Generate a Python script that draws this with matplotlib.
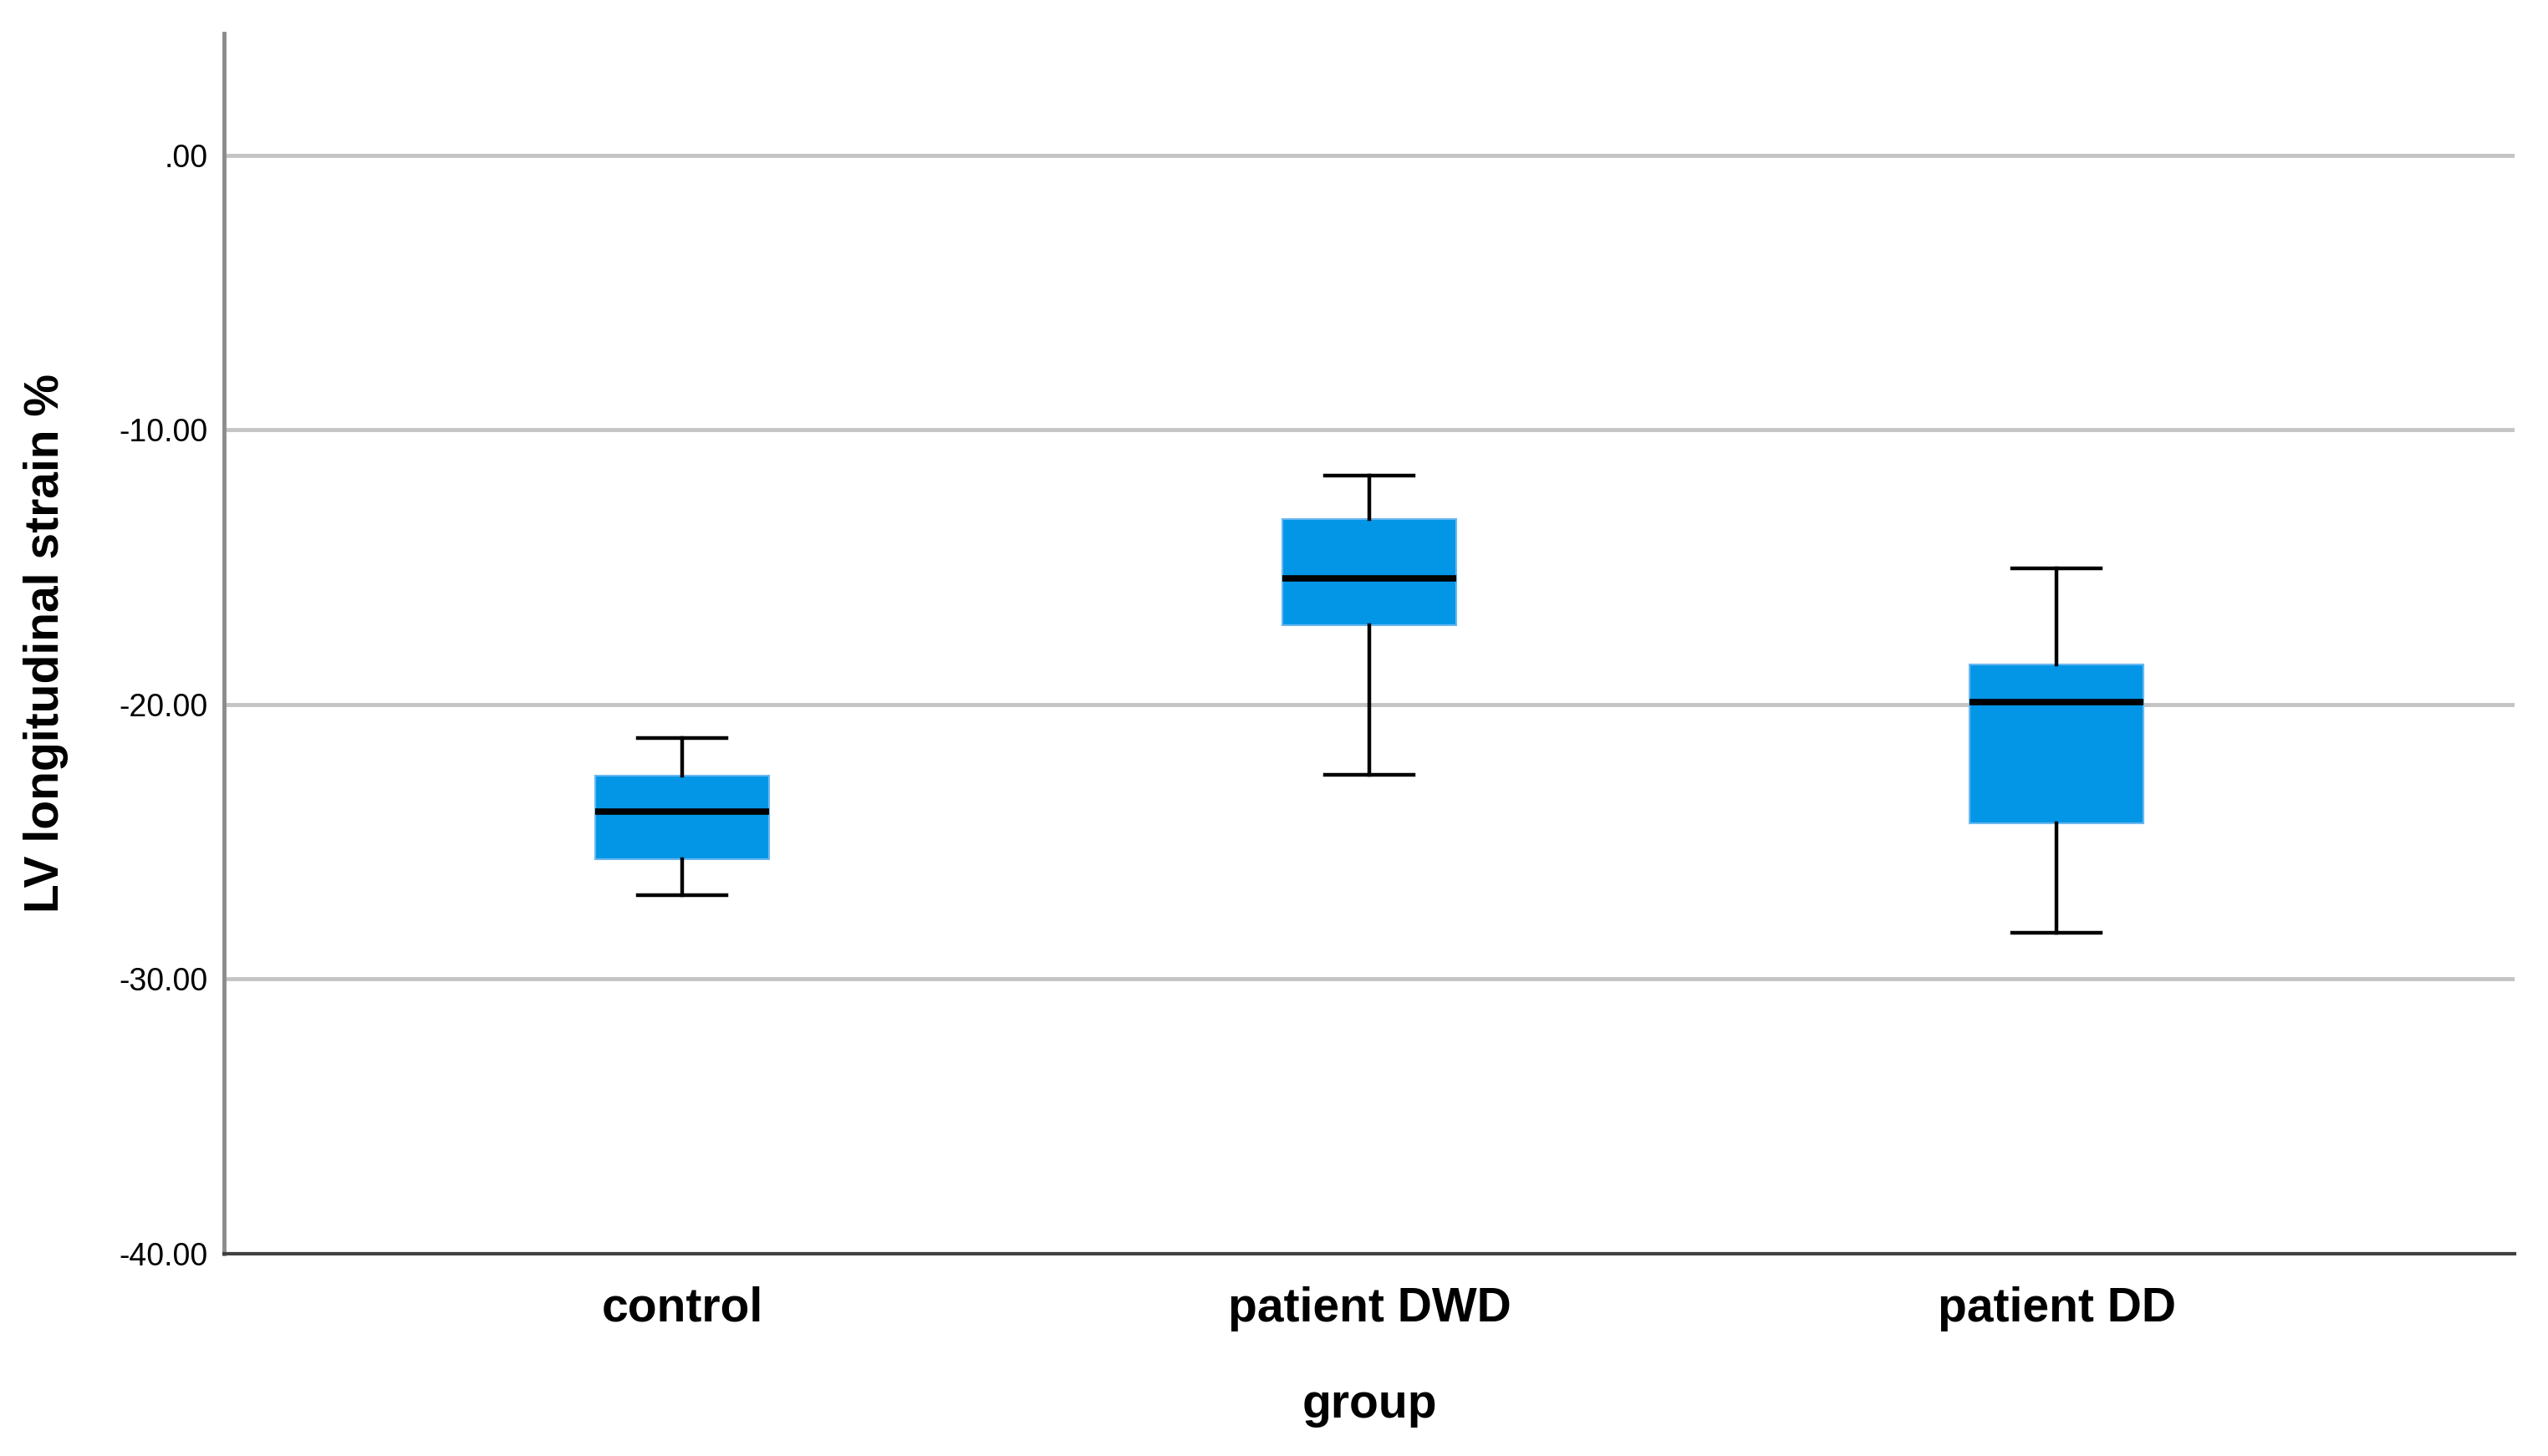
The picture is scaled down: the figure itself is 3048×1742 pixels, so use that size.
import matplotlib
matplotlib.use("Agg")
import matplotlib.pyplot as plt

# values (LV longitudinal strain %)
groups = ["control", "patient DWD", "patient DD"]
whisker_low = [-26.94, -22.56, -28.31]
q1 = [-25.63, -17.11, -24.32]
medians = [-23.90, -15.40, -19.91]
q3 = [-22.59, -13.24, -18.54]
whisker_high = [-21.22, -11.66, -15.04]
y_ticks = [0, -10, -20, -30, -40]

BOX_COLOR = '#0396E6'
BOX_EDGE = '#6BB8F0'
GRID_COLOR = '#C4C4C4'

narrow = ['Liberation Sans Narrow', 'Liberation Sans', 'DejaVu Sans']
wide = ['Liberation Sans', 'DejaVu Sans']

stats = []
for i, g in enumerate(groups):
    stats.append(dict(label=g, whislo=whisker_low[i], q1=q1[i], med=medians[i],
                      q3=q3[i], whishi=whisker_high[i], fliers=[]))

fig = plt.figure(figsize=(30.48, 17.42), dpi=100)
ax = fig.add_axes((268 / 3048, 1 - 1500 / 1742, 2740 / 3048, 1460 / 1742))

for t in y_ticks[:-1]:
    ax.axhline(t, color=GRID_COLOR, lw=3.5, zorder=0)

ax.bxp(stats, positions=range(len(groups)), widths=0.252, patch_artist=True,
       showfliers=False,
       boxprops=dict(facecolor=BOX_COLOR, edgecolor=BOX_EDGE, lw=1.5),
       medianprops=dict(color='black', lw=5.5, solid_capstyle='butt'),
       whiskerprops=dict(color='black', lw=3.2),
       capprops=dict(color='black', lw=3.2),
       capwidths=0.128, zorder=3)

ax.set_xlim(-2 / 3, 2 + 2 / 3)
ax.set_ylim(-40, 4.44)
ax.set_yticks(y_ticks)
ax.set_yticklabels(['.00' if t == 0 else '%.2f' % t for t in y_ticks],
                   family=narrow, fontsize=27)
ax.set_xticks(range(len(groups)))
ax.set_xticklabels(groups, family=narrow, fontsize=41, fontweight='bold')
ax.tick_params(axis='y', length=0, pad=14)
ax.tick_params(axis='x', length=0, pad=28)

ax.spines['top'].set_visible(False)
ax.spines['right'].set_visible(False)
ax.spines['left'].set_color('#8C8C8C')
ax.spines['left'].set_linewidth(3.5)
ax.spines['bottom'].set_color('#404040')
ax.spines['bottom'].set_linewidth(3)

ax.set_xlabel('group', family=narrow, fontsize=41, fontweight='bold', labelpad=44)
ax.set_ylabel('LV longitudinal strain %', family=wide, fontsize=41,
              fontweight='bold')
ax.yaxis.set_label_coords(-0.068, 0.5)

fig.savefig('out.png', dpi=100, facecolor='white')
